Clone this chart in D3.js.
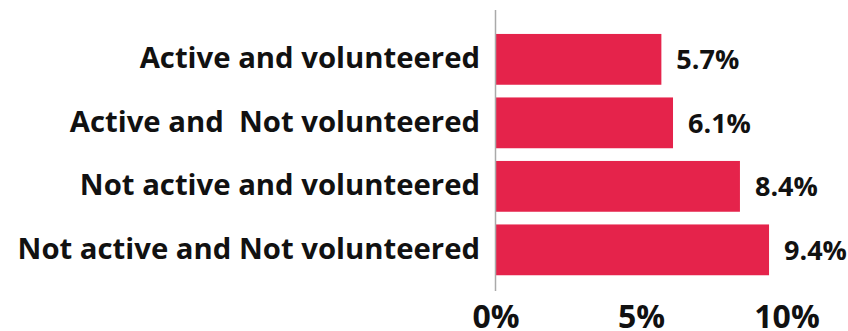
<!DOCTYPE html>
<html>
<head>
<meta charset="utf-8">
<script src="https://cdn.jsdelivr.net/npm/d3@7"></script>
<style>
  html, body { margin: 0; padding: 0; background: #fff; }
  svg { display: block; }
  text { font-family: "Open Sans", "Noto Sans", sans-serif; font-weight: 700; fill: #111; white-space: pre; }
</style>
</head>
<body>
<script>
const categories = [
  "Active and volunteered",
  "Active and  Not volunteered",
  "Not active and volunteered",
  "Not active and Not volunteered"
];
const values = [5.7, 6.1, 8.4, 9.4];
const tickValues = [0, 5, 10];
const tickLabels = ["0%", "5%", "10%"];

const W = 848, H = 331;
const svg = d3.select("body").append("svg").attr("width", W).attr("height", H);

const x = d3.scaleLinear().domain([0, 10]).range([495.5, 786.5]);
const y = d3.scaleBand().domain(categories).range([27.6, 281.6])
  .paddingInner(0.2).paddingOuter(0.1);

// bars
svg.append("g").selectAll("rect").data(values).join("rect")
  .attr("x", x(0))
  .attr("y", (d, i) => y(categories[i]))
  .attr("width", d => x(d) - x(0))
  .attr("height", y.bandwidth())
  .attr("fill", "#E5234B");

// axis line
svg.append("line")
  .attr("x1", x(0)).attr("x2", x(0))
  .attr("y1", 10).attr("y2", 291)
  .attr("stroke", "#aaaaaa").attr("stroke-width", 1.5);

// category labels
svg.append("g").selectAll("text").data(categories).join("text")
  .attr("x", 480)
  .attr("y", d => y(d) + y.bandwidth() / 2)
  .attr("dy", "0.3em")
  .attr("text-anchor", "end")
  .attr("xml:space", "preserve")
  .style("font-size", "29.3px")
  .text(d => d);

// value labels
svg.append("g").selectAll("text").data(values).join("text")
  .attr("x", d => x(d) + 15)
  .attr("y", (d, i) => y(categories[i]) + y.bandwidth() / 2)
  .attr("dy", "0.36em")
  .style("font-size", "27px")
  .text(d => d.toFixed(1) + "%");

// x axis tick labels
const xAxis = d3.axisBottom(x).tickValues(tickValues)
  .tickFormat((d, i) => tickLabels[i]).tickSize(0).tickPadding(0);
const gx = svg.append("g").attr("transform", "translate(0,300)").call(xAxis);
gx.select(".domain").remove();
gx.selectAll("text")
  .attr("dy", null)
  .attr("y", 28)
  .style("font-size", "32px")
  .style("font-family", "'Open Sans', sans-serif")
  .style("font-weight", 700)
  .attr("fill", "#111");
</script>
</body>
</html>
